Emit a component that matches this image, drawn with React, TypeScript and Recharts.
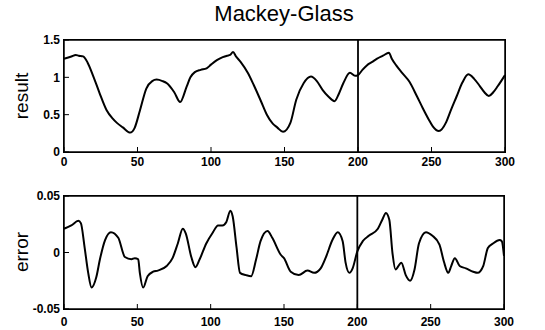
import React from 'react';
import { LineChart, Line, XAxis, YAxis, ReferenceLine } from 'recharts';

const resultX = [0, 5, 8, 10, 13, 16, 20, 24, 29, 33, 36, 40, 45, 48, 51.7, 56, 60, 63, 67, 70, 75, 79, 83.5, 86, 89, 93, 97, 100, 104, 108, 111, 113, 115, 117, 120, 125, 129, 134, 138, 142, 145, 149, 154, 158, 163, 168, 172, 176, 180, 184, 187, 190, 194.5, 198, 200, 203, 206, 210, 213, 217, 221, 223, 226, 230, 235, 240, 244, 248, 251, 255, 260, 263, 267, 271, 275, 279, 283, 286, 289, 292, 295, 300];
const resultY = [1.25, 1.28, 1.3, 1.29, 1.28, 1.2, 1.01, 0.8, 0.56, 0.45, 0.39, 0.33, 0.26, 0.32, 0.56, 0.85, 0.95, 0.97, 0.95, 0.92, 0.8, 0.67, 0.88, 1.0, 1.07, 1.1, 1.12, 1.17, 1.23, 1.27, 1.29, 1.3, 1.34, 1.28, 1.21, 1.06, 0.9, 0.68, 0.5, 0.38, 0.33, 0.27, 0.39, 0.7, 0.92, 1.01, 0.95, 0.83, 0.74, 0.68, 0.78, 0.92, 1.06, 1.02, 1.03, 1.1, 1.16, 1.21, 1.25, 1.29, 1.33, 1.25, 1.16, 1.06, 0.94, 0.75, 0.59, 0.44, 0.34, 0.28, 0.4, 0.55, 0.74, 0.93, 1.04, 0.98, 0.88, 0.8, 0.75, 0.8, 0.88, 1.03];

const errorX = [0, 5, 9.8, 11.5, 14, 16.5, 18.8, 22, 24.5, 28, 32, 37, 41.5, 46, 48.3, 50.6, 51.7, 54, 57, 60.8, 64, 70, 74, 77.6, 81, 83, 86.8, 89.6, 92.5, 97, 101.6, 105, 108, 110.7, 113.4, 115, 117.6, 120, 124, 127.6, 131, 134, 138.8, 142, 147.8, 150, 154.6, 160, 166, 170.5, 175, 178.6, 183, 186.6, 190, 192, 194.6, 196.8, 200, 203.7, 208, 214, 217, 219.5, 221.8, 224, 226, 230, 233, 236, 239, 242, 246.8, 251, 256, 259, 262, 264, 266.5, 269.8, 274, 279, 282, 285.8, 289, 292.5, 297, 298.5, 300];
const errorY = [0.021, 0.024, 0.028, 0.026, 0.005, -0.018, -0.031, -0.022, -0.006, 0.011, 0.018, 0.013, -0.004, -0.006, -0.005, -0.006, -0.018, -0.031, -0.021, -0.017, -0.016, -0.012, -0.005, 0.008, 0.021, 0.017, -0.004, -0.013, -0.006, 0.008, 0.018, 0.024, 0.024, 0.027, 0.037, 0.032, 0.005, -0.018, -0.02, -0.021, -0.006, 0.01, 0.019, 0.013, -0.002, -0.005, -0.017, -0.02, -0.016, -0.018, -0.014, -0.004, 0.011, 0.018, 0.01, -0.009, -0.018, -0.014, 0.001, 0.01, 0.015, 0.021, 0.029, 0.035, 0.029, -0.001, -0.015, -0.009, -0.02, -0.025, -0.015, 0.008, 0.018, 0.015, 0.007, -0.008, -0.018, -0.012, -0.005, -0.012, -0.014, -0.017, -0.018, -0.012, 0.004, 0.008, 0.011, 0.01, -0.003];

const xTicks = [0, 50, 100, 150, 200, 250, 300];
const xDomain = [0, 300];
const resultTicks = [0, 0.5, 1, 1.5];
const errorTicks = [-0.05, 0, 0.05];
const splitAt = 200;
const title = 'Mackey-Glass';
const resultLabel = 'result';
const errorLabel = 'error';

const resultData = resultX.map((x, i) => ({ x, v: resultY[i] }));
const errorData = errorX.map((x, i) => ({ x, v: errorY[i] }));

const tickFont = {
  fontFamily: '"Liberation Sans Narrow", "Arial Narrow", "Liberation Sans", Arial, sans-serif',
  fontSize: 12,
  fontWeight: 'bold' as const,
  fill: '#000',
};

const axisLine = { stroke: '#000', strokeWidth: 1.5 };
const tickLine = { stroke: '#000', strokeWidth: 1 };

function Panel({ data, yTicks, yDomain, top, height, marginTop, marginRight, xAxisHeight, xTickMargin }: any) {
  const plotW = 545 - 64 - marginRight;
  const plotH = height - marginTop - xAxisHeight;
  return (
    <div style={{ position: 'absolute', left: 0, top, width: 545, height }}>
      <div style={{ position: 'absolute', left: 63.25, top: marginTop - 0.75, width: plotW + 1.5, height: plotH + 1.5, border: '1.5px solid #000', boxSizing: 'border-box' }} />
      <div style={{ position: 'absolute', left: 0, top: 0 }}>
        <LineChart width={545} height={height} data={data} margin={{ top: marginTop - 20, right: marginRight - 20, bottom: xAxisHeight, left: 64 }}>
          <XAxis orientation="top" dataKey="x" type="number" domain={xDomain} ticks={xTicks} height={20}
            tickSize={-5} tick={false} axisLine={axisLine} tickLine={tickLine} interval={0} />
          <YAxis orientation="right" type="number" domain={yDomain} ticks={yTicks} width={20} tickSize={-5}
            tick={false} axisLine={axisLine} tickLine={tickLine} interval={0} />
          <Line dataKey="v" type="monotone" stroke="none" strokeWidth={0} dot={false} isAnimationActive={false} />
        </LineChart>
      </div>
      <div style={{ position: 'absolute', left: 0, top: 0 }}>
        <LineChart width={545} height={height} data={data} margin={{ top: marginTop, right: marginRight, bottom: 0, left: 0 }}>
          <XAxis dataKey="x" type="number" domain={xDomain} ticks={xTicks} height={xAxisHeight}
            tickSize={-5} tickMargin={xTickMargin} axisLine={axisLine} tickLine={tickLine} tick={tickFont} interval={0} />
          <YAxis type="number" domain={yDomain} ticks={yTicks} width={64} tickSize={-5} tickMargin={9}
            axisLine={axisLine} tickLine={tickLine} tick={tickFont} interval={0} tickFormatter={(v: number) => String(v)} />
          <ReferenceLine x={splitAt} stroke="#000" strokeWidth={1.8} />
          <Line dataKey="v" type="monotone" stroke="#000" strokeWidth={2} dot={false} isAnimationActive={false} />
        </LineChart>
      </div>
    </div>
  );
}

export default function App() {
  return (
    <div style={{ position: 'absolute', left: 0, top: 0, width: 545, height: 330, background: '#fff', fontFamily: '"Liberation Sans", Arial, sans-serif' }}>
      <div style={{ position: 'absolute', left: 184, width: 200, top: 1, textAlign: 'center', fontSize: 22, color: '#000' }}>{title}</div>
      <div style={{ position: 'absolute', left: 22, top: 96, transform: 'translate(-50%, -50%) rotate(-90deg)', fontSize: 19, color: '#000', whiteSpace: 'nowrap' }}>{resultLabel}</div>
      <div style={{ position: 'absolute', left: 22, top: 252, transform: 'translate(-50%, -50%) rotate(-90deg)', fontSize: 19, color: '#000', whiteSpace: 'nowrap' }}>{errorLabel}</div>
      <Panel data={resultData} yTicks={resultTicks} yDomain={[0, 1.5]} top={0} height={175} marginTop={40} marginRight={40}
        xAxisHeight={23} xTickMargin={10} />
      <Panel data={errorData} yTicks={errorTicks} yDomain={[-0.05, 0.05]} top={160} height={170} marginTop={36} marginRight={41}
        xAxisHeight={21} xTickMargin={13} />
    </div>
  );
}
